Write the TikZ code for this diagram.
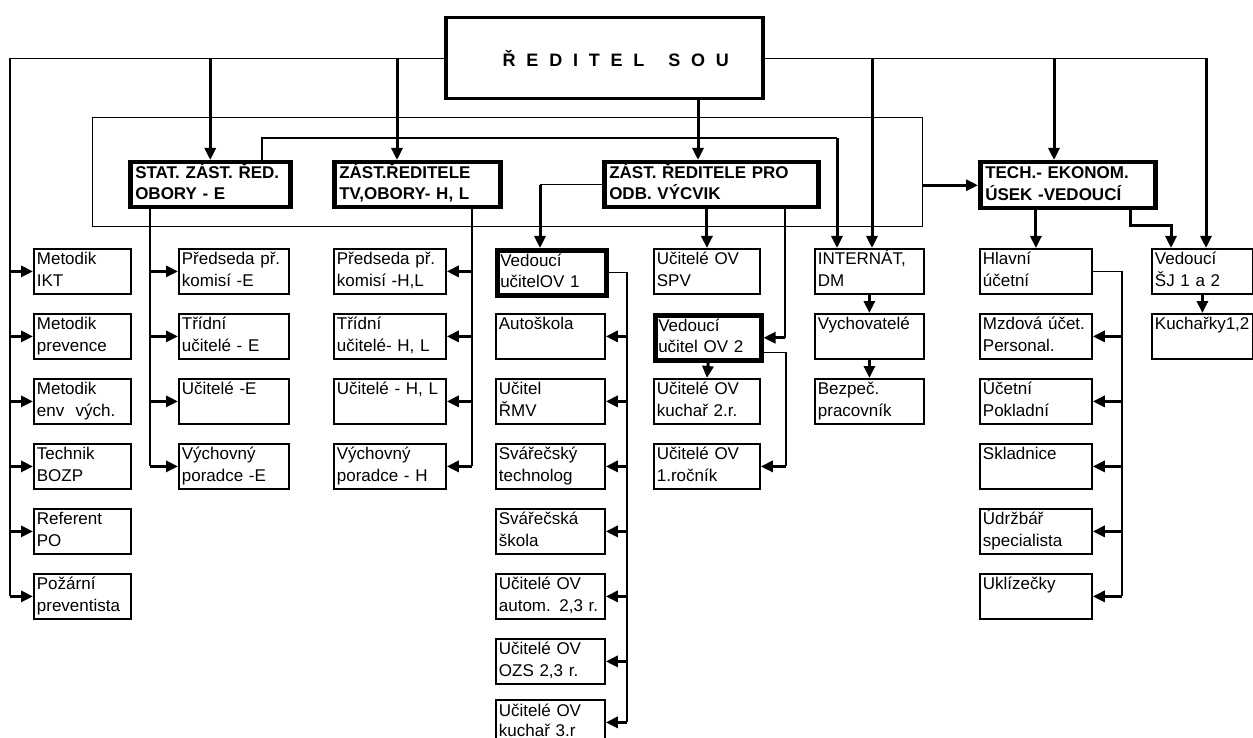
\documentclass[tikz,border=0pt]{standalone}
\usepackage{fontspec}
\setmainfont{Liberation Sans}
\newfontfamily\dirfont[LetterSpace=60]{Liberation Sans}
\usetikzlibrary{arrows.meta}
\newcommand{\two}[2]{\strut#1\\\strut#2}
\tikzset{
  box/.style={draw,line width=1.8pt,anchor=north west,inner xsep=3pt,inner ysep=0pt,
    minimum height=45pt,align=left,text width=#1,font=\fontsize{17}{21.7}\selectfont},
  vbox/.style={box=#1,line width=4.5pt},
  head/.style={box=#1,line width=4.5pt,inner xsep=5pt,font=\fontsize{17}{21.7}\selectfont\bfseries},
  ln/.style={line width=1.2pt},
  arr/.style={line width=3pt,-{Triangle[length=12pt,width=11pt]}},
}
\begin{document}
\begin{tikzpicture}[x=1pt,y=-1pt]
\useasboundingbox (0,0) rectangle (1253,738);
% vedeni
\node[draw,line width=3.5pt,anchor=north west,minimum width=317pt,minimum height=81pt,
  font=\dirfont\bfseries\fontsize{18}{22}\selectfont] (dir) at (444,16)
  {\hspace*{23pt}\raisebox{-3pt}{ŘEDITEL\hspace{8pt} SOU}};
\node[draw,ln,anchor=north west,minimum width=830pt,minimum height=109pt,inner sep=0pt] (fr) at (92,117) {};
\node[head=150pt] (stat) at (128,160) {\two{STAT. ZÁST. ŘED.}{OBORY - E}};
\node[head=156pt] (ztv) at (332,160) {\two{ZÁST.ŘEDITELE}{TV,OBORY- H, L}};
\node[head=204pt] (zodb) at (602,160) {\two{ZÁST. ŘEDITELE PRO}{ODB. VÝCVIK}};
\node[head=165pt,minimum height=46pt] (tech) at (978,160) {\two{TECH.- EKONOM.}{ÚSEK -VEDOUCÍ}};
% sloupce
\foreach \t [count=\i] in {{\two{Metodik}{IKT}},{\two{Metodik}{prevence}},{\two{Metodik}{env~ vých.}},
  {\two{Technik}{BOZP}},{\two{Referent}{PO}},{\two{Požární}{preventista}}}
  \node[box=91pt] (a\i) at (33,{183+65*\i}) {\t};
\foreach \t [count=\i] in {{\two{Předseda př.}{komisí -E}},{\two{Třídní}{učitelé - E}},
  {\two{Učitelé -E}{}},{\two{Výchovný}{poradce -E}}}
  \node[box=104pt] (b\i) at (178,{183+65*\i}) {\t};
\foreach \t [count=\i] in {{\two{Předseda př.}{komisí -H,L}},{\two{Třídní}{učitelé- H, L}},
  {\two{Učitelé - H, L}{}},{\two{Výchovný}{poradce - H}}}
  \node[box=106pt] (c\i) at (333,{183+65*\i}) {\t};
\node[vbox=103pt] (d1) at (495,248) {\two{Vedoucí}{učitelOV 1}};
\foreach \t [count=\i from 2] in {{\two{Autoškola}{}},{\two{Učitel}{ŘMV}},{\two{Svářečský}{technolog}},
  {\two{Svářečská}{škola}},{\two{Učitelé OV}{autom. 2,3 r.}},{\two{Učitelé OV}{OZS 2,3 r.}}}
  \node[box=103pt] (d\i) at (495,{183+65*\i}) {\t};
\node[box=103pt,font=\fontsize{17}{20}\selectfont] (d8) at (495,699) {\two{Učitelé OV}{kuchař 3.r}};
\node[box=100pt] (e1) at (653,248) {\two{Učitelé OV}{SPV}};
\node[vbox=100pt] (e2) at (653,313) {\two{Vedoucí}{učitel OV 2}};
\node[box=100pt] (e3) at (653,378) {\two{Učitelé OV}{kuchař 2.r.}};
\node[box=100pt] (e4) at (653,443) {\two{Učitelé OV}{1.ročník}};
\foreach \t [count=\i] in {{\two{INTERNÁT,}{DM}},{\two{Vychovatelé}{}},{\two{Bezpeč.}{pracovník}}}
  \node[box=103pt] (f\i) at (814,{183+65*\i}) {\t};
\foreach \t [count=\i] in {{\two{Hlavní}{účetní}},{\two{Mzdová účet.}{Personal.}},{\two{Účetní}{Pokladní}},
  {\two{Skladnice}{}},{\two{Údržbář}{specialista}},{\two{Uklízečky}{}}}
  \node[box=106pt] (g\i) at (979,{183+65*\i}) {\t};
\node[box=95pt] (h1) at (1151,248) {\two{Vedoucí}{ŠJ 1 a 2}};
\node[box=95pt] (h2) at (1151,313) {\two{Kuchařky1,2}{}};
% vazby
\coordinate (lt) at (10,0);
\coordinate (rt) at (1206,0);
\coordinate (k2) at (397,0);
\coordinate (k3) at (698,0);
\coordinate (k4) at (872,0);
\coordinate (k5) at (1054,0);
\coordinate (k6) at (262,138);
\coordinate (k7) at (837,138);
\coordinate (k8) at (150,0);
\coordinate (k9) at (472,0);
\coordinate (k10) at (540,0);
\coordinate (k11) at (785,0);
\coordinate (k12) at (627,0);
\coordinate (k13) at (786,0);
\coordinate (k14) at (1122,0);
\coordinate (k15) at (1130,226);
\coordinate (k16) at (1171,226);
\draw[ln] (dir.west) -| (lt |- a6.west);
\foreach \i in {1,...,6} \draw[arr] (lt |- a\i.west) -- (a\i.west);
\draw[ln] (dir.east) -- (dir.east -| rt);
\draw[arr] (dir.east -| rt) -- (rt |- h1.north);
\draw[arr] (stat.north |- dir.west) -- (stat.north);
\draw[arr] (k2 |- dir.west) -- (k2 |- ztv.north);
\draw[arr] (k3 |- dir.south) -- (k3 |- zodb.north);
\draw[arr] (k4 |- dir.east) -- (k4 |- f1.north);
\draw[arr] (k5 |- dir.east) -- (k5 |- tech.north);
\draw[ln] (k6 |- stat.north) -- (k6) -- (k7);
\draw[arr] (k7) -- (k7 |- f1.north);
\draw[arr] (fr.east |- tech.west) -- (tech.west);
\draw[ln] (k8 |- stat.south) -- (k8 |- b4.west);
\foreach \i in {1,...,4} \draw[arr] (k8 |- b\i.west) -- (b\i.west);
\draw[ln] (k9 |- ztv.south) -- (k9 |- c4.east);
\foreach \i in {1,...,4} \draw[arr] (k9 |- c\i.east) -- (c\i.east);
\draw[ln] (zodb.west) -- (zodb.west -| k10);
\draw[arr] (zodb.west -| k10) -- (k10 |- d1.north);
\draw[arr] (e1.north |- zodb.south) -- (e1.north);
\draw[ln] (k11 |- zodb.south) -- (k11 |- e2.east);
\draw[arr] (k11 |- e2.east) -- (e2.east);
\draw[ln] (d1.east) -| (k12 |- d8.east);
\foreach \i in {2,...,8} \draw[arr] (k12 |- d\i.east) -- (d\i.east);
\draw[ln] ([yshift=-15pt]e2.east) -| (k13 |- e4.east);
\draw[arr] (k13 |- e4.east) -- (e4.east);
\draw[arr] (e2.south) -- (e3.north);
\draw[arr] (f1.south) -- (f2.north);
\draw[arr] (f2.south) -- (f3.north);
\draw[ln] (g1.east) -| (k14 |- g6.east);
\foreach \i in {2,...,6} \draw[arr] (k14 |- g\i.east) -- (g\i.east);
\draw[arr] (g1.north |- tech.south) -- (g1.north);
\draw[arr] (k15 |- tech.south) -- (k15) -- (k16) -- (k16 |- h1.north);
\draw[arr] (h1.south) -- (h2.north);
\end{tikzpicture}
\end{document}
